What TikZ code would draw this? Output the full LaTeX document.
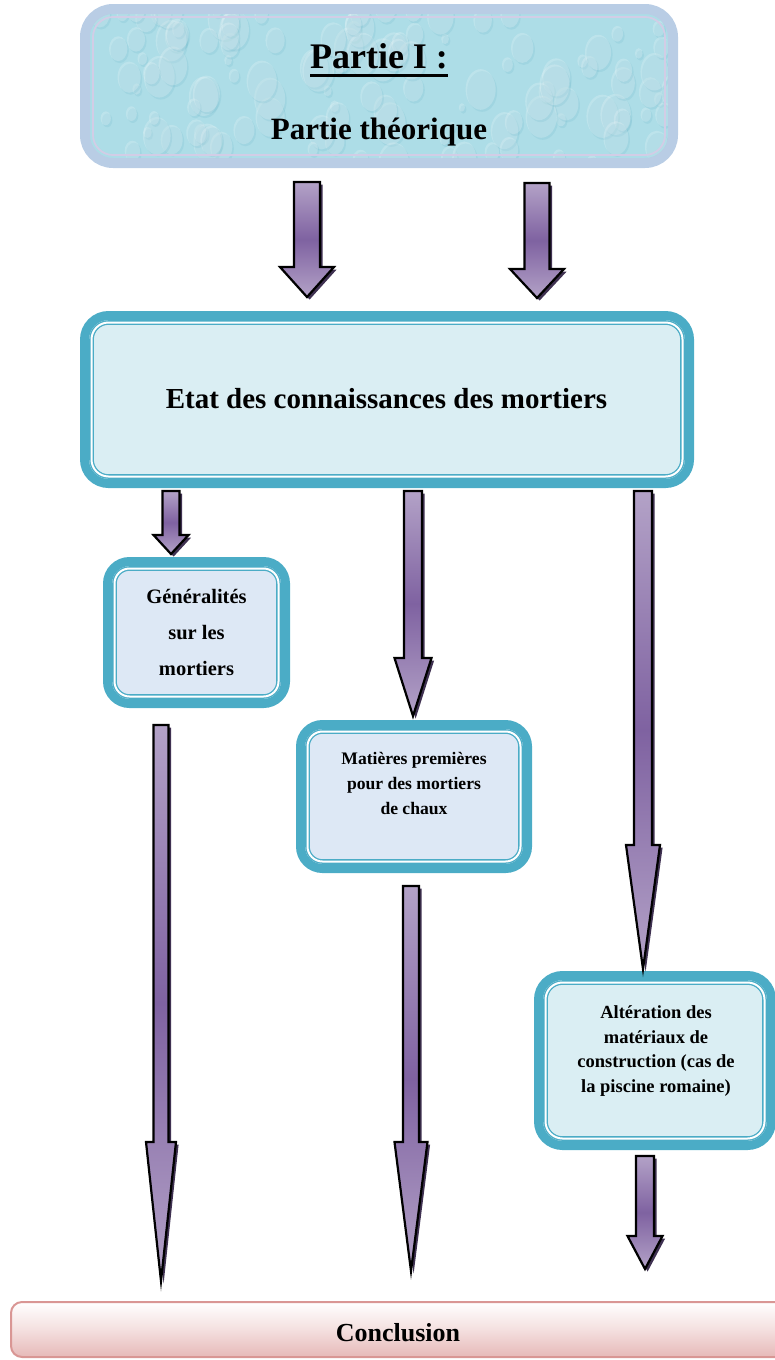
\documentclass[tikz,border=0pt]{standalone}
\usepackage{fontspec}
\setmainfont{Liberation Serif}
\usetikzlibrary{calc}

\definecolor{boxteal}{HTML}{4BACC6}
\definecolor{paleaqua}{HTML}{DAEEF3}
\definecolor{tissue}{HTML}{DDE8F5}
\definecolor{waterfill}{HTML}{ADDDE7}
\definecolor{waterdark}{HTML}{5FAFC2}
\definecolor{frameblue}{HTML}{B9CDE5}
\definecolor{framelav}{HTML}{D2CDE6}
\definecolor{violetlight}{HTML}{B3A2C7}
\definecolor{violetdark}{HTML}{7F62A1}
\definecolor{violetshadow}{HTML}{3F3151}
\definecolor{roseline}{HTML}{D99694}
\definecolor{rosefill}{HTML}{E6B9B8}

% thick underline for the part title
\newsavebox{\ulbox}
\newcommand{\thickul}[1]{\sbox{\ulbox}{#1}\rlap{\rule[-9pt]{\wd\ulbox}{3.5pt}}\usebox{\ulbox}}

% block arrow: start, tip, half shaft width, half head width, head length
\def\shd{2.6pt}
\newcommand{\blockarrow}[5]{%
  \fill[arrowshadow] let \p1=(#1), \p2=(#2) in
    (\x1-#3+\shd,\y1-\shd) -- (\x1+#3+\shd,\y1-\shd) -- (\x1+#3+\shd,\y2+#5-\shd)
    -- (\x1+#4+\shd,\y2+#5-\shd) -- (\x1+\shd,\y2-\shd) -- (\x1-#4+\shd,\y2+#5-\shd)
    -- (\x1-#3+\shd,\y2+#5-\shd) -- cycle;
  \draw[arrowbody] let \p1=(#1), \p2=(#2) in
    (\x1-#3,\y1) -- (\x1+#3,\y1) -- (\x1+#3,\y2+#5) -- (\x1+#4,\y2+#5) -- (\x1,\y2)
    -- (\x1-#4,\y2+#5) -- (\x1-#3,\y2+#5) -- cycle;
}

\tikzset{
  tealbox/.style={draw=boxteal, line width=9pt, rounded corners=24pt,
    inner sep=0pt, outer sep=0pt},
  innerframe/.style={draw=boxteal, line width=1.3pt, double=white,
    double distance=2pt, rounded corners=17pt},
  topbox/.style={draw=frameblue, line width=10pt, rounded corners=28pt,
    fill=waterfill, inner sep=0pt, outer sep=0pt},
  endbox/.style={draw=roseline, line width=2pt, rounded corners=11pt,
    top color=white, bottom color=rosefill, middle color=rosefill!45!white,
    inner sep=0pt, outer sep=0pt},
  label/.style={align=center, text=black, inner sep=0pt},
  arrowshadow/.style={fill=violetshadow},
  arrowbody/.style={draw=black, line width=2.2pt, line join=miter,
    top color=violetlight, bottom color=violetlight, middle color=violetdark},
}

\begin{document}
\begin{tikzpicture}[x=1pt, y=-1pt]
\useasboundingbox (0,0) rectangle (774,1360);

% ---------- Part title ----------
\node[topbox, minimum width=588pt, minimum height=154pt] (part) at (379,86) {};
\begin{scope}
  \clip[rounded corners=23pt] ($(part.north west)+(5,5)$) rectangle ($(part.south east)+(-5,-5)$);
  \pgfmathsetseed{42}
  \foreach \k in {1,...,130}{
    \pgfmathsetmacro{\dx}{85+595*rnd}
    \pgfmathsetmacro{\dy}{8+158*rnd}
    \pgfmathsetmacro{\dr}{3+13*rnd}
    \fill[waterdark, opacity=0.16] (\dx+1.5,\dy+2) ellipse [x radius=\dr, y radius=1.35*\dr];
    \fill[white, opacity=0.2] (\dx,\dy) ellipse [x radius=\dr, y radius=1.35*\dr];
  }
\end{scope}
\draw[framelav, line width=1.8pt, rounded corners=20pt]
  ($(part.north west)+(8,8)$) rectangle ($(part.south east)+(-8,-8)$);
\node[label, anchor=base, font=\fontsize{36}{42}\selectfont\bfseries] (part-t1) at (379,68)
  {\thickul{Partie I :}};
\node[label, anchor=base, font=\fontsize{31}{36}\selectfont\bfseries] (part-t2) at (379,139)
  {Partie théorique};

% ---------- Main box ----------
\node[tealbox, fill=paleaqua, minimum width=605pt, minimum height=168pt] (etat) at (387,399.5) {};
\draw[innerframe] ($(etat.north west)+(7,7)$) rectangle ($(etat.south east)+(-7,-7)$);
\node[label, anchor=base, font=\fontsize{29}{34}\selectfont\bfseries] (etat-t) at (386.5,408)
  {Etat des connaissances des mortiers};

% ---------- Généralités ----------
\node[tealbox, fill=tissue, rounded corners=22pt, minimum width=178pt, minimum height=142pt] (gen) at (196.5,632.5) {};
\draw[innerframe, rounded corners=15pt] ($(gen.north west)+(7,7)$) rectangle ($(gen.south east)+(-7,-7)$);
\node[label, font=\fontsize{20.5}{36}\selectfont\bfseries] (gen-t) at (196.5,632)
  {Généralités\\sur les\\mortiers};

% ---------- Matières premières ----------
\node[tealbox, fill=tissue, rounded corners=22pt, minimum width=227pt, minimum height=144pt] (mat) at (414,796.5) {};
\draw[innerframe, rounded corners=15pt] ($(mat.north west)+(7,7)$) rectangle ($(mat.south east)+(-7,-7)$);
\node[label, font=\fontsize{17.6}{25}\selectfont\bfseries] (mat-t) at (414,783)
  {Matières premières\\pour des mortiers\\de chaux};

% ---------- Altération ----------
\node[tealbox, fill=paleaqua, minimum width=233pt, minimum height=170pt] (alt) at (655,1060.5) {};
\draw[innerframe] ($(alt.north west)+(7,7)$) rectangle ($(alt.south east)+(-7,-7)$);
\node[label, font=\fontsize{18.5}{24.7}\selectfont\bfseries] (alt-t) at (656,1051)
  {Altération des\\matériaux de\\construction (cas de\\la piscine romaine)};

% ---------- Conclusion ----------
\node[endbox, minimum width=778pt, minimum height=55pt] (concl) at (400,1329.5) {};
\node[label, font=\fontsize{26}{30}\selectfont\bfseries] (concl-t) at (398,1333) {Conclusion};

% ---------- Block arrows ----------
\coordinate (a1s) at (307,182);  \coordinate (a1e) at (307,297);
\coordinate (a2s) at (537,183);  \coordinate (a2e) at (537,298);
\coordinate (a3s) at (171,491);  \coordinate (a3e) at (171,554);
\coordinate (a4s) at (413,491);  \coordinate (a4e) at (413,716);
\coordinate (a5s) at (643,491);  \coordinate (a5e) at (643,969);
\coordinate (a6s) at (161,725);  \coordinate (a6e) at (161,1281);
\coordinate (a7s) at (411,886);  \coordinate (a7e) at (411,1271);
\coordinate (a8s) at (645,1156); \coordinate (a8e) at (645,1269);

\blockarrow{a1s}{a1e}{13pt}{27pt}{30pt}
\blockarrow{a2s}{a2e}{12.5pt}{27pt}{29pt}
\blockarrow{a3s}{a3e}{8.5pt}{17.5pt}{19pt}
\blockarrow{a4s}{a4e}{9pt}{18.5pt}{58pt}
\blockarrow{a5s}{a5e}{9pt}{17pt}{124pt}
\blockarrow{a6s}{a6e}{7.5pt}{15pt}{139pt}
\blockarrow{a7s}{a7e}{8pt}{16.5pt}{129pt}
\blockarrow{a8s}{a8e}{9pt}{17.5pt}{33pt}
\end{tikzpicture}
\end{document}
